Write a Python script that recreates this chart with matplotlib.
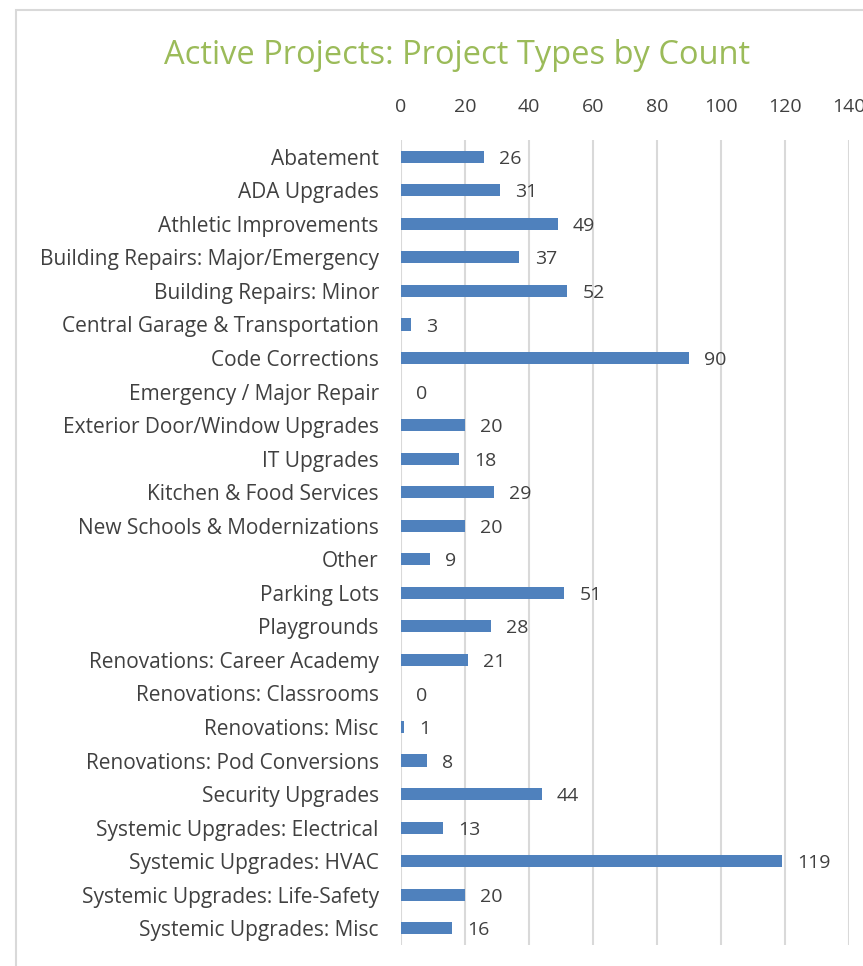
import matplotlib.pyplot as plt
from matplotlib.patches import Rectangle

categories = [
    "Abatement", "ADA Upgrades", "Athletic Improvements",
    "Building Repairs: Major/Emergency", "Building Repairs: Minor",
    "Central Garage & Transportation", "Code Corrections",
    "Emergency / Major Repair", "Exterior Door/Window Upgrades", "IT Upgrades",
    "Kitchen & Food Services", "New Schools & Modernizations", "Other",
    "Parking Lots", "Playgrounds", "Renovations: Career Academy",
    "Renovations: Classrooms", "Renovations: Misc", "Renovations: Pod Conversions",
    "Security Upgrades", "Systemic Upgrades: Electrical", "Systemic Upgrades: HVAC",
    "Systemic Upgrades: Life-Safety", "Systemic Upgrades: Misc",
]
counts = [26, 31, 49, 37, 52, 3, 90, 0, 20, 18, 29, 20, 9, 51, 28, 21, 0, 1, 8, 44, 13, 119, 20, 16]
x_ticks = [0, 20, 40, 60, 80, 100, 120, 140]

text_color = "#404040"
plt.rcParams["font.family"] = ["Open Sans", "DejaVu Sans"]

fig = plt.figure(figsize=(8.63, 9.66), dpi=100)
ax = fig.add_axes([401 / 863, 1 - 945 / 966, 448 / 863, 805 / 966])

y = list(range(len(categories)))
ax.barh(y, counts, height=0.36, color="#4F81BD", zorder=3)
for yi, c in zip(y, counts):
    ax.annotate(str(c), (c, yi), xytext=(11, -1.5), textcoords="offset points",
                va="center", ha="left", fontsize=14, color=text_color)

ax.set_xlim(0, 140)
ax.set_ylim(len(categories) - 0.5, -0.5)
ax.set_yticks(y)
ax.set_yticklabels(categories, fontsize=15, color=text_color)
ax.set_xticks(x_ticks)
ax.xaxis.tick_top()
ax.tick_params(axis="x", length=0, pad=17, labelsize=14, labelcolor=text_color)
ax.tick_params(axis="y", length=0, pad=16)
ax.grid(axis="x", color="#D9D9D9", lw=1.5, zorder=0)
for s in ax.spines.values():
    s.set_visible(False)

fig.text(457 / 863, 1 - 55 / 966, "Active Projects: Project Types by Count",
         ha="center", va="center", fontsize=23.5, color="#9BBB59")

fig.patches.append(Rectangle((16 / 863, -0.1), 1.2, 1 - 10 / 966 + 0.1,
                             transform=fig.transFigure, fill=False,
                             edgecolor="#D9D9D9", lw=1.5))

fig.savefig("out.png", dpi=100)
